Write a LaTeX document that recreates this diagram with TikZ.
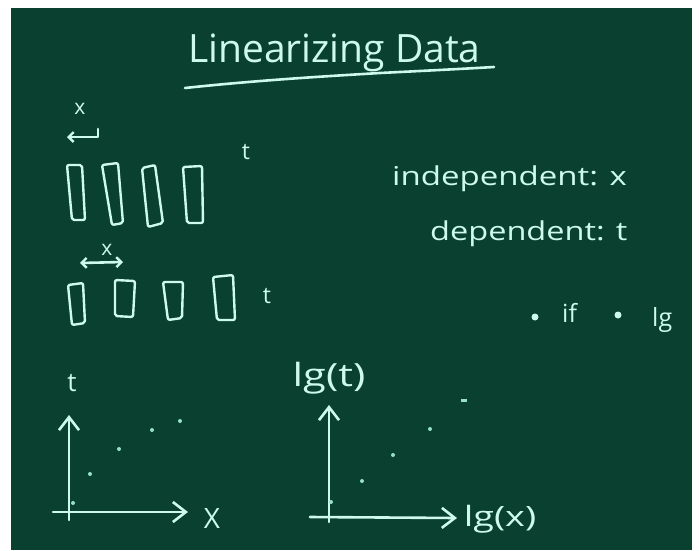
\documentclass[tikz,border=0pt]{standalone}
\usepackage{fontspec}
\setmainfont{Open Sans}
\usetikzlibrary{arrows.meta}
\definecolor{board}{RGB}{10,64,48}
\definecolor{chalk}{RGB}{205,250,235}
\definecolor{chalkdim}{RGB}{150,225,200}
\tikzset{
  chalkline/.style={draw=chalk, line width=2.6pt, line cap=round, line join=round},
  chalktext/.style={text=chalk, inner sep=0pt},
  axis/.style={chalkline, -{Straight Barb[length=13pt,width=20pt,line width=2.6pt]}},
  datadot/.style={circle, fill=chalkdim, inner sep=0pt, minimum size=4pt},
  bigdot/.style={circle, fill=chalk, inner sep=0pt, minimum size=7pt},
  rectbox/.style={chalkline, line width=2.4pt, rounded corners=2pt}
}
\begin{document}
\begin{tikzpicture}[x=1pt,y=-1pt]
\useasboundingbox (0,0) rectangle (699,550);
\fill[white] (0,0) rectangle (699,550);
\fill[board] (11,8) rectangle (692,550);

% title
\node[chalktext, anchor=base west, font=\fontsize{39}{42}\selectfont] (title) at (188,62) {Linearizing\hspace{10pt}Data};
\coordinate (ulA) at (185,88);
\coordinate (ulB) at (494,67);
\draw[chalkline] (ulA) .. controls (260,80) and (330,76) .. (380,73) .. controls (420,71) and (460,69) .. (ulB);

% top row
\node[chalktext, font=\fontsize{21}{23}\selectfont] (x1) at (80,109) {x};
\coordinate (a1l) at (67,137);
\coordinate (a1r) at (98,137);
\coordinate (a1t) at (98,129);
\draw[chalkline, {Straight Barb[length=5pt,width=10pt,line width=2.4pt]}-] (a1l) -- (a1r) -- (a1t);
\node[chalktext, font=\fontsize{23}{25}\selectfont] (t1) at (246,152) {t};
\draw[rectbox] (67,165) -- (82,165) -- (85,220) -- (72,220) -- cycle;
\draw[rectbox] (102,165) -- (118,163) -- (123,223) -- (112,225) -- cycle;
\draw[rectbox] (142,168) -- (155,165) -- (163,223) -- (148,227) -- cycle;
\draw[rectbox] (183,167) -- (202,166) -- (203,223) -- (187,223) -- cycle;

% second row
\node[chalktext, font=\fontsize{21}{23}\selectfont] (x2) at (107,250) {x};
\coordinate (a2l) at (80,263);
\coordinate (a2r) at (123,262);
\draw[chalkline, {Straight Barb[length=5pt,width=10pt,line width=2.4pt]}-{Straight Barb[length=5pt,width=10pt,line width=2.4pt]}] (a2l) -- (a2r);
\draw[rectbox] (68,285) -- (83,283) -- (85,323) -- (72,325) -- cycle;
\draw[rectbox] (115,280) -- (135,281) -- (133,317) -- (115,316) -- cycle;
\draw[rectbox] (163,282) -- (183,282) -- (182,318) -- (168,320) -- cycle;
\draw[rectbox] (213,277) -- (233,275) -- (235,320) -- (217,320) -- cycle;
\node[chalktext, font=\fontsize{23}{25}\selectfont] (t2) at (267,296) {t};

% right notes
\node[chalktext, anchor=base west, font=\fontsize{26}{28}\selectfont] (indep) at (392,185) {\scalebox{1.27}[1]{independent: x}};
\node[chalktext, anchor=base west, font=\fontsize{26}{28}\selectfont] (dep) at (430,240) {\scalebox{1.25}[1]{dependent: t}};
\node[bigdot] (d1) at (535,317) {};
\node[chalktext, anchor=base west, font=\fontsize{25}{27}\selectfont] (if) at (562,322) {if};
\node[bigdot] (d2) at (618,315) {};
\node[chalktext, anchor=base west, font=\fontsize{25}{27}\selectfont] (lg) at (652,326) {lg};

% left graph
\coordinate (o1) at (69,520);
\coordinate (y1) at (69,415);
\coordinate (xa1) at (53,512);
\coordinate (x1e) at (188,512);
\draw[axis] (o1) -- (y1);
\draw[axis] (xa1) -- (x1e);
\node[chalktext, font=\fontsize{26}{28}\selectfont] (tl) at (72,383) {t};
\node[chalktext, font=\fontsize{28}{30}\selectfont] (Xl) at (212,518) {X};
\node[datadot] (p1) at (73,503) {};
\node[datadot] (p2) at (90,474) {};
\node[datadot] (p3) at (119,449) {};
\node[datadot] (p4) at (152,430) {};
\node[datadot] (p5) at (180,421) {};

% right graph
\coordinate (o2) at (329,522);
\coordinate (y2) at (329,405);
\coordinate (xa2) at (310,517);
\coordinate (x2e) at (457,518);
\draw[axis] (o2) -- (y2);
\draw[axis] (xa2) -- (x2e);
\node[chalktext, font=\fontsize{32}{34}\selectfont] (lgt) at (329,378) {\scalebox{1.3}[1]{lg(t)}};
\node[chalktext, font=\fontsize{28}{30}\selectfont] (lgx) at (500,519) {\scalebox{1.35}[1]{lg(x)}};
\node[datadot] (q1) at (331,502) {};
\node[datadot] (q2) at (362,481) {};
\node[datadot] (q3) at (393,455) {};
\node[datadot] (q4) at (430,429) {};
\node[datadot, minimum width=6pt, minimum height=3pt, rectangle] (q5) at (464,400) {};
\end{tikzpicture}
\end{document}
